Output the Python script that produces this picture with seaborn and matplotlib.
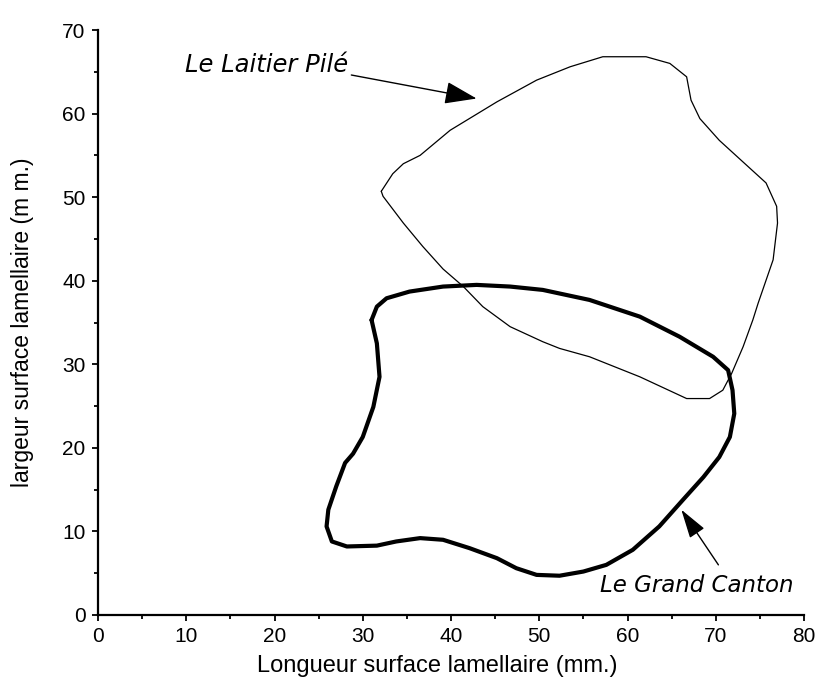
import matplotlib
matplotlib.use("Agg")
import matplotlib.pyplot as plt
import seaborn as sns
from matplotlib.ticker import MultipleLocator

# ---- data ----
laitier_x = [32.1, 33.4, 34.6, 36.5, 39.9, 45.2, 49.7, 53.5, 57.2, 62.1, 64.8, 66.7, 67.2, 68.2,
             70.4, 73.1, 75.7, 76.9, 77.0, 76.5, 74.8, 74.2, 73.1, 71.8, 70.8, 69.3, 66.7, 61.4,
             55.7, 52.3, 50.4, 46.7, 43.6, 41.4, 39.1, 36.8, 34.6, 32.3, 32.1]
laitier_y = [50.7, 52.8, 54.0, 55.0, 58.0, 61.4, 64.0, 65.6, 66.8, 66.8, 66.0, 64.4, 61.6, 59.4,
             56.8, 54.2, 51.7, 48.9, 46.9, 42.5, 37.3, 35.3, 32.1, 28.9, 26.9, 25.9, 25.9, 28.5,
             30.9, 31.9, 32.7, 34.5, 36.9, 39.3, 41.4, 44.1, 46.9, 50.1, 50.7]

canton_x = [31.0, 31.6, 32.7, 35.3, 39.1, 42.9, 46.7, 50.4, 55.7, 61.4, 65.9, 69.7, 71.4, 71.9,
            72.1, 71.6, 70.4, 68.6, 66.3, 63.6, 60.6, 57.6, 55.0, 52.3, 49.7, 47.4, 45.2, 42.1,
            39.1, 36.5, 33.8, 31.6, 28.2, 26.5, 25.9, 26.1, 27.0, 28.0, 28.9, 30.0, 31.2, 31.9,
            31.6, 31.0]
canton_y = [35.3, 36.9, 37.9, 38.7, 39.3, 39.5, 39.3, 38.9, 37.7, 35.7, 33.3, 30.9, 29.3, 26.9,
            24.1, 21.3, 18.9, 16.5, 13.8, 10.6, 7.8, 6.0, 5.2, 4.7, 4.8, 5.6, 6.8, 8.0,
            9.0, 9.2, 8.8, 8.3, 8.2, 8.8, 10.6, 12.6, 15.4, 18.2, 19.3, 21.3, 24.9, 28.5,
            32.5, 35.3]

labels = ["Le Laitier Pilé", "Le Grand Canton"]
xticks = [0, 10, 20, 30, 40, 50, 60, 70, 80]
yticks = [0, 10, 20, 30, 40, 50, 60, 70]

sns.set_style("ticks")
plt.rcParams['font.family'] = ['Liberation Sans', 'DejaVu Sans']
plt.rcParams['text.color'] = 'black'

fig = plt.figure(figsize=(8.16, 6.79), dpi=100)
ax = fig.add_axes([98/816, 1 - 615/679, (804-98)/816, (615-30)/679])

sns.lineplot(x=laitier_x, y=laitier_y, sort=False, estimator=None, color="black",
             linewidth=0.9, ax=ax)
sns.lineplot(x=canton_x, y=canton_y, sort=False, estimator=None, color="black",
             linewidth=3.0, ax=ax)
for ln in ax.get_lines():
    ln.set_solid_joinstyle("round")
    ln.set_solid_capstyle("round")

ax.set_xlim(0, 80)
ax.set_ylim(0, 70)
ax.set_xticks(xticks)
ax.set_yticks(yticks)
ax.xaxis.set_minor_locator(MultipleLocator(5))
ax.yaxis.set_minor_locator(MultipleLocator(5))
ax.tick_params(which="major", direction="out", length=4, width=1.3, colors="black",
               labelsize=15, pad=5)
ax.tick_params(which="minor", direction="out", length=3, width=1.3, colors="black")

sns.despine(ax=ax)
for s in ("left", "bottom"):
    ax.spines[s].set_linewidth(1.6)
    ax.spines[s].set_color("black")

ax.set_xlabel("Longueur surface lamellaire (mm.)", fontsize=17, color="black")
ax.set_ylabel("largeur surface lamellaire (m m.)", fontsize=16.5, color="black")
ax.xaxis.set_label_coords(0.48, -0.068)
ax.yaxis.set_label_coords(-0.0907, 0.5)

# annotations
ax.annotate(labels[0], xy=(42.9, 61.8), xytext=(9.85, 65.0),
            fontsize=17.5, fontstyle="italic", family="DejaVu Sans", color="black",
            ha="left", va="baseline",
            arrowprops=dict(arrowstyle="-|>,head_length=1.0,head_width=0.35",
                            mutation_scale=20, lw=1.0, color="black",
                            shrinkA=0, shrinkB=0, relpos=(1.0, 0.1)))
ax.annotate("", xy=(66.1, 12.6), xytext=(70.3, 6.0),
            arrowprops=dict(arrowstyle="-|>,head_length=1.0,head_width=0.3",
                            mutation_scale=18, lw=1.0, color="black",
                            shrinkA=0, shrinkB=0))
ax.text(56.85, 2.75, labels[1], fontsize=16.5, fontstyle="italic", family="DejaVu Sans",
        ha="left", va="baseline", color="black")

fig.savefig("out.png", dpi=100, facecolor="white")
